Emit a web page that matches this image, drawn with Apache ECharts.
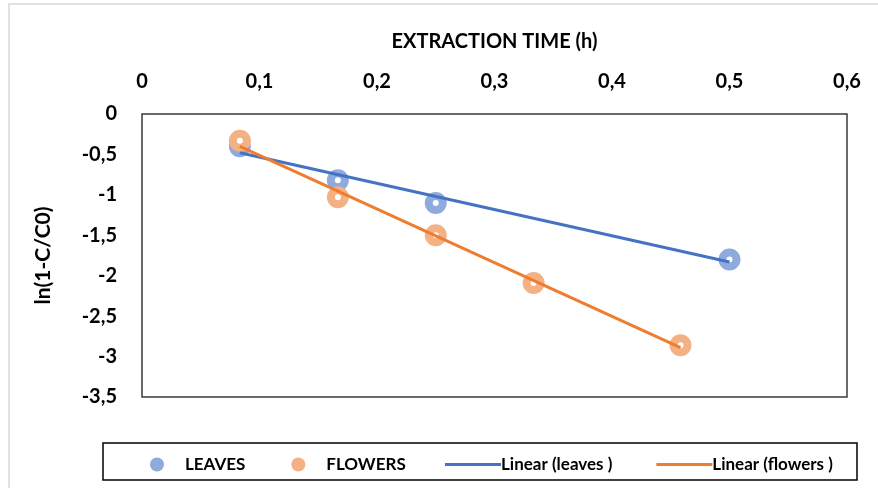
<!DOCTYPE html>
<html>
<head>
<meta charset="utf-8">
<script src="https://cdn.jsdelivr.net/npm/echarts@6/dist/echarts.min.js"></script>
<style>
  html, body { margin: 0; padding: 0; background: #fff; }
  #chart { width: 878px; height: 488px; }
</style>
</head>
<body>
<div id="chart"></div>
<script>
// Extraction kinetics: ln(1-C/C0) vs time, leaves and flowers
const chart = echarts.init(document.getElementById('chart'));

const leavesTime = [0.0833, 0.1667, 0.25, 0.5];
const leavesLn = [-0.40, -0.82, -1.10, -1.80];
const flowersTime = [0.0833, 0.1667, 0.25, 0.3333, 0.4583];
const flowersLn = [-0.33, -1.03, -1.50, -2.09, -2.86];
// trend line end points
const leavesTrendTime = [0.0833, 0.5];
const leavesTrendLn = [-0.48, -1.83];
const flowersTrendTime = [0.0833, 0.4583];
const flowersTrendLn = [-0.40, -2.89];

const pairs = (xs, ys) => xs.map((x, i) => [x, ys[i]]);
const comma = v => String(Math.round(v * 10) / 10).replace('.', ',');

const FONT = 'Lato';
const labelStyle = { color: '#000', fontFamily: FONT, fontWeight: 'bold', fontSize: 20 };
const legendText = { color: '#000', fontFamily: FONT, fontWeight: 'bold', fontSize: 17 };

function ring(color){
  return { color: '#fff', borderColor: color, borderWidth: 8, opacity: 1 };
}

chart.setOption({
  animation: false,
  backgroundColor: '#fff',
  textStyle: { fontFamily: FONT },
  graphic: [
    { type: 'rect', shape: { x: 9, y: 4, width: 900, height: 520 },
      style: { fill: 'none', stroke: '#d9d9d9', lineWidth: 1.5 } },
    { type: 'rect', shape: { x: 103, y: 443, width: 754, height: 37 },
      style: { fill: '#fff', stroke: '#000', lineWidth: 1.5 }, z: -1 }
  ],
  grid: { left: 142, right: 31, top: 114, bottom: 91, show: true,
    borderColor: '#3a3a3a', borderWidth: 1.5, backgroundColor: 'transparent' },
  xAxis: {
    type: 'value', position: 'top', min: 0, max: 0.6, interval: 0.1,
    name: 'EXTRACTION TIME (h)', nameLocation: 'middle', nameGap: 62,
    nameTextStyle: { color: '#000', fontFamily: FONT, fontWeight: 'bold', fontSize: 20 },
    axisLine: { show: false }, axisTick: { show: false }, splitLine: { show: false },
    axisLabel: Object.assign({ margin: 22, formatter: comma }, labelStyle)
  },
  yAxis: {
    type: 'value', min: -3.5, max: 0, interval: 0.5,
    name: 'ln(1-C/C0)', nameLocation: 'middle', nameGap: 88, nameRotate: 90,
    nameTextStyle: { color: '#000', fontFamily: FONT, fontWeight: 'bold', fontSize: 21 },
    axisLine: { show: false }, axisTick: { show: false }, splitLine: { show: false },
    axisLabel: Object.assign({ margin: 25, formatter: comma }, labelStyle)
  },
  legend: [
    {
      left: 145, top: 451, itemWidth: 14, itemHeight: 14, itemGap: 46,
      textStyle: Object.assign({ padding: [0, 0, 0, 16] }, legendText),
      data: [
        { name: 'LEAVES', icon: 'circle', itemStyle: { color: '#8faadc', borderWidth: 0 } },
        { name: 'FLOWERS', icon: 'circle', itemStyle: { color: '#f4b183', borderWidth: 0 } }
      ]
    },
    {
      left: 440, top: 451, itemWidth: 56, itemHeight: 3, itemGap: 44,
      textStyle: Object.assign({ padding: [0, 0, 0, -5] }, legendText),
      data: [
        { name: 'Linear (leaves )', icon: 'rect', itemStyle: { color: '#4472c4' } },
        { name: 'Linear (flowers )', icon: 'rect', itemStyle: { color: '#ed7d31' } }
      ]
    }
  ],
  series: [
    { name: 'Linear (leaves )', type: 'line', data: pairs(leavesTrendTime, leavesTrendLn),
      symbol: 'none', lineStyle: { color: '#4472c4', width: 3 }, itemStyle: { color: '#4472c4' }, z: 3 },
    { name: 'Linear (flowers )', type: 'line', data: pairs(flowersTrendTime, flowersTrendLn),
      symbol: 'none', lineStyle: { color: '#ed7d31', width: 3 }, itemStyle: { color: '#ed7d31' }, z: 3 },
    { name: 'LEAVES', type: 'scatter', data: pairs(leavesTime, leavesLn),
      symbolSize: 14, itemStyle: ring('#8faadc'), z: 2 },
    { name: 'FLOWERS', type: 'scatter', data: pairs(flowersTime, flowersLn),
      symbolSize: 14, itemStyle: ring('#f4b183'), z: 2 }
  ]
});
</script>
</body>
</html>
